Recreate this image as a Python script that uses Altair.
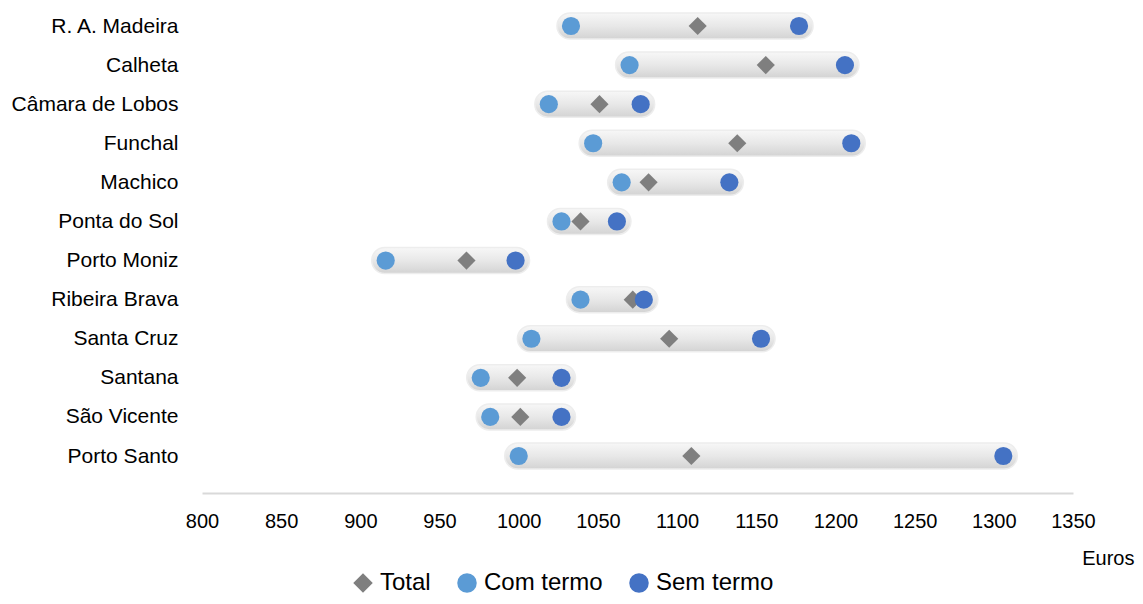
import altair as alt
import pandas as pd

regions = ["R. A. Madeira", "Calheta", "Câmara de Lobos", "Funchal", "Machico",
           "Ponta do Sol", "Porto Moniz", "Ribeira Brava", "Santa Cruz",
           "Santana", "São Vicente", "Porto Santo"]
total = [1113, 1156, 1051, 1138, 1082, 1039, 967, 1072, 1095, 999, 1001, 1109]
com_termo = [1033, 1070, 1019, 1047, 1065, 1027, 916, 1039, 1008, 976, 982, 1000]
sem_termo = [1177, 1206, 1077, 1210, 1133, 1062, 998, 1079, 1153, 1027, 1027, 1306]
series_names = ["Total", "Com termo", "Sem termo"]
series_colors = ["#7f7f7f", "#5b9bd5", "#4472c4"]
series_shapes = ["diamond", "circle", "circle"]
x_ticks = list(range(800, 1351, 50))

FONT = "Liberation Sans"

wide = pd.DataFrame({
    "region": regions,
    "lo": [min(a, b, c) for a, b, c in zip(total, com_termo, sem_termo)],
    "hi": [max(a, b, c) for a, b, c in zip(total, com_termo, sem_termo)],
})

rows = []
for name, vals in zip(series_names, [total, com_termo, sem_termo]):
    for r, v in zip(regions, vals):
        rows.append({"region": r, "series": name, "value": v})
long = pd.DataFrame(rows)

yscale = alt.Scale(type="point", domain=regions, range=[18, 448], padding=0)
xscale = alt.Scale(domain=[800, 1350], nice=False, zero=False)

grad = alt.Gradient(
    gradient="linear",
    stops=[alt.GradientStop(color="#f7f7f7", offset=0),
           alt.GradientStop(color="#e8e8e8", offset=0.5),
           alt.GradientStop(color="#d3d3d3", offset=1)],
    x1=0, x2=0, y1=0, y2=1,
)

bars = alt.Chart(wide).mark_bar(
    height=26, cornerRadius=13, xOffset=-14, x2Offset=14,
    fill=grad, stroke="#ededed", strokeWidth=1.5,
).encode(
    y=alt.Y("region:N", scale=yscale, sort=regions,
            axis=alt.Axis(title=None, domain=False, ticks=False, labelPadding=24,
                          labelFontSize=21, labelFont=FONT, labelColor="#000000")),
    x=alt.X("lo:Q", scale=xscale,
            axis=alt.Axis(values=x_ticks, format="d", grid=False, ticks=False,
                          domainColor="#d9d9d9", domainWidth=2,
                          labelFontSize=20, labelFont=FONT, labelColor="#000000",
                          labelPadding=18, labelFlush=False, labelOverlap=False,
                          labelBound=False,
                          title="Euros", titleFont=FONT, titleFontSize=20,
                          titleFontWeight="normal", titleColor="#000000",
                          titleAlign="right", titleBaseline="middle",
                          titleX=932, titleY=65, titleAngle=0)),
    x2="hi:Q",
)

points = alt.Chart(long).mark_point(filled=True, opacity=1, size=330).encode(
    y=alt.Y("region:N", scale=yscale, sort=regions),
    x=alt.X("value:Q", scale=xscale),
    color=alt.Color("series:N",
                    scale=alt.Scale(domain=series_names, range=series_colors),
                    legend=alt.Legend(title=None, orient="none", direction="horizontal",
                                      legendX=149, legendY=563, labelFontSize=24,
                                      labelFont=FONT, labelColor="#000000",
                                      symbolSize=380, labelOffset=5,
                                      columnPadding=24, symbolStrokeWidth=0)),
    shape=alt.Shape("series:N",
                    scale=alt.Scale(domain=series_names, range=series_shapes)),
)

chart = alt.layer(bars, points).properties(
    width=871, height=485,
    autosize=alt.AutoSizeParams(type="none"),
    padding={"left": 194, "top": 0, "right": 62, "bottom": 103},
).configure_view(stroke=None)

chart.save("out.html", embed_options={"renderer": "svg", "actions": False})
